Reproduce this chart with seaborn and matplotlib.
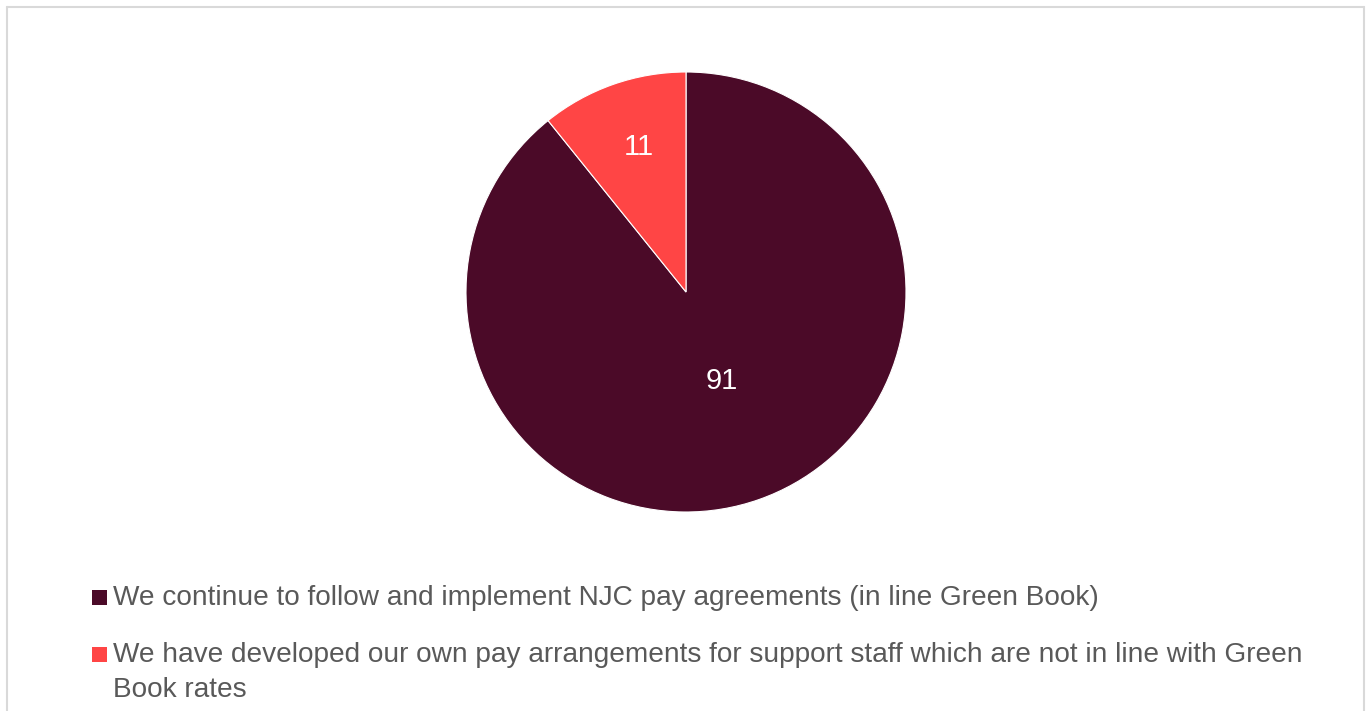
import matplotlib
matplotlib.use("Agg")
import matplotlib.pyplot as plt
from matplotlib.lines import Line2D
from matplotlib.patches import Rectangle
import numpy as np
import seaborn as sns

sns.set_theme(style="white")
plt.rcParams["font.family"] = ["Liberation Sans", "DejaVu Sans"]

# Survey responses on support-staff pay arrangements
categories = [
    "We continue to follow and implement NJC pay agreements (in line Green Book)",
    "We have developed our own pay arrangements for support staff which are not in line with Green\nBook rates",
]
values = [91, 11]
colors = ["#4B0A28", "#FF4545"]
label_radius = [0.43, 0.70]

W, H = 1370, 711
fig = plt.figure(figsize=(W / 100, H / 100), dpi=100)
fig.patch.set_facecolor("white")

# Pie axes: centre (686, 292) px, radius 220 px
cx, cy, r = 686, 292, 220
ax = fig.add_axes([(cx - r) / W, (H - cy - r) / H, 2 * r / W, 2 * r / H])
wedges, _ = ax.pie(
    values,
    colors=colors,
    startangle=90,
    counterclock=False,
    radius=1.0,
    wedgeprops=dict(edgecolor="white", linewidth=0.8),
)
ax.set_xlim(-1, 1)
ax.set_ylim(-1, 1)
ax.set_aspect("equal")
ax.axis("off")

# Value labels inside each wedge
for w, v, d in zip(wedges, values, label_radius):
    mid = np.deg2rad((w.theta1 + w.theta2) / 2)
    ax.text(d * np.cos(mid) + 0.02, d * np.sin(mid), str(v), color="white",
            fontsize=21, ha="center", va="center")

# Legend drawn below the pie, one baseline per text line
text_color = "#595959"
legend_rows = [605, 662]
line_step = 35
for cat, col, base in zip(categories, colors, legend_rows):
    fig.add_artist(Rectangle((92 / W, 1 - base / H), 15 / W, 15 / H,
                             transform=fig.transFigure, facecolor=col,
                             edgecolor="none"))
    for k, line in enumerate(cat.split("\n")):
        fig.text(113 / W, 1 - (base + k * line_step) / H, line,
                 color=text_color, fontsize=20.2, ha="left", va="baseline")

# Chart area frame
frame = "#D9D9D9"
lw = 1.5
x0, x1, y0 = 7 / W, 1364 / W, 1 - 7 / H
fig.add_artist(Line2D([x0, x1], [y0, y0], color=frame, lw=lw, transform=fig.transFigure))
fig.add_artist(Line2D([x0, x0], [y0, 0], color=frame, lw=lw, transform=fig.transFigure))
fig.add_artist(Line2D([x1, x1], [y0, 0], color=frame, lw=lw, transform=fig.transFigure))

fig.savefig("out.png", dpi=100, facecolor="white")
